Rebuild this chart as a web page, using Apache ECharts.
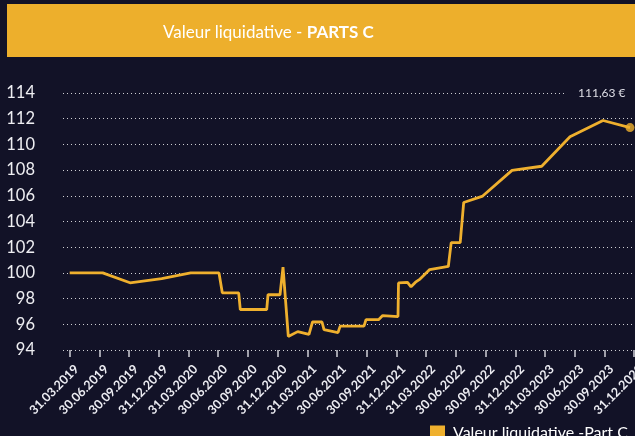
<!DOCTYPE html>
<html><head><meta charset="utf-8">
<script src="https://cdn.jsdelivr.net/npm/echarts@6/dist/echarts.min.js"></script>
<style>html,body{margin:0;padding:0;background:#121227;}#c{width:635px;height:436px;}</style>
</head><body><div id="c"></div>
<script>
// Tick labels (quarter ends), index 0..19
const tickLabels = ['31.03.2019','30.06.2019','30.09.2019','31.12.2019','31.03.2020','30.06.2020','30.09.2020','31.12.2020',
  '31.03.2021','30.06.2021','30.09.2021','31.12.2021','31.03.2022','30.06.2022','30.09.2022','31.12.2022',
  '31.03.2023','30.06.2023','30.09.2023','31.12.2023'];
// Point positions, in quarters since 31.03.2019
const quarterPos = [0.000,1.111,2.030,3.097,4.073,5.026,5.137,5.689,5.743,6.632,6.676,7.080,7.181,7.359,7.675,8.056,
  8.174,8.494,8.561,9.032,9.106,9.907,9.975,10.396,10.537,11.052,11.069,11.372,11.490,11.641,11.793,12.119,
  12.746,12.843,13.146,13.264,13.903,14.890,15.890,16.842,17.953,18.862];
// Net asset value
const navValues = [100.0,100.0,99.23,99.55,100.0,100.0,98.45,98.45,97.15,97.15,98.3,98.3,100.45,95.06,95.43,95.22,
  96.18,96.18,95.58,95.36,95.86,95.86,96.36,96.36,96.68,96.6,99.22,99.26,98.92,99.28,99.52,100.26,
  100.5,102.36,102.36,105.48,105.98,107.98,108.3,110.59,111.86,111.31];
const lastLabel = '111,63 €';
const titleMain = 'Valeur liquidative - ';
const titleBold = 'PARTS C';
const seriesName = 'Valeur liquidative -Part C';

const gold = '#EFB02E';
const font = 'Lato';
const points = quarterPos.map((q, i) => [q, navValues[i]]);
const lastPoint = points[points.length - 1];
const tickIdx = tickLabels.map((_, i) => i);

const chart = echarts.init(document.getElementById('c'), null, {renderer: 'canvas'});
chart.setOption({
  backgroundColor: '#121227',
  animation: false,
  textStyle: {fontFamily: font},
  grid: {left: 63, right: -10, top: 93, bottom: 86, containLabel: false, outerBoundsMode: 'none'},
  xAxis: {
    type: 'value', min: -0.2255, max: 19.367,
    axisLine: {show: false},
    splitLine: {show: false},
    axisTick: {show: true, length: 7, customValues: tickIdx, lineStyle: {color: '#d0d0d8', width: 1.5}},
    axisLabel: {customValues: tickIdx, rotate: 45, margin: 10, fontSize: 12.5, fontWeight: 'bold', color: '#ececf2', fontFamily: font,
      verticalAlign: 'top', lineHeight: 20,
      formatter: v => tickLabels[Math.round(v)] || ''}
  },
  yAxis: {
    type: 'value', min: 94, max: 114, interval: 2,
    axisLine: {show: false}, axisTick: {show: false},
    axisLabel: {fontSize: 16.5, color: '#eeeef2', margin: 28, fontFamily: font},
    splitLine: {show: true, lineStyle: {color: 'rgba(255,255,255,0.8)', type: [1, 3], width: 1}}
  },
  legend: {
    data: [seriesName], left: 425, top: 420, icon: 'rect', itemWidth: 15, itemHeight: 15,
    textStyle: {color: '#ffffff', fontSize: 16, fontFamily: font, padding: [0, 0, 0, 3]}
  },
  series: [
    {name: seriesName, type: 'line', data: points, symbol: 'none', color: gold,
     lineStyle: {width: 2.8, color: gold}, z: 3},
    {name: 'last', type: 'scatter', data: [lastPoint], symbolSize: 9, itemStyle: {color: gold}, z: 4}
  ],
  graphic: [
    {type: 'rect', left: 7, top: 4, z: 10, shape: {width: 640, height: 53}, style: {fill: '#EDAF2C'}},
    {type: 'text', x: 163, y: 33, z: 11, style: {
      text: '{a|' + titleMain + '}{b|' + titleBold + '}', verticalAlign: 'middle',
      rich: {a: {fontSize: 17, fontFamily: font, fill: '#ffffff', fontWeight: 'normal'},
             b: {fontSize: 17, fontFamily: font, fill: '#ffffff', fontWeight: 'bold'}}
    }},
    {type: 'text', x: 567, y: 93, z: 11, style: {
      text: lastLabel, fill: '#dedee6', fontSize: 12, fontFamily: font, verticalAlign: 'middle', align: 'left',
      backgroundColor: '#121227', padding: [2, 8, 2, 11]
    }}
  ]
});
</script></body></html>
